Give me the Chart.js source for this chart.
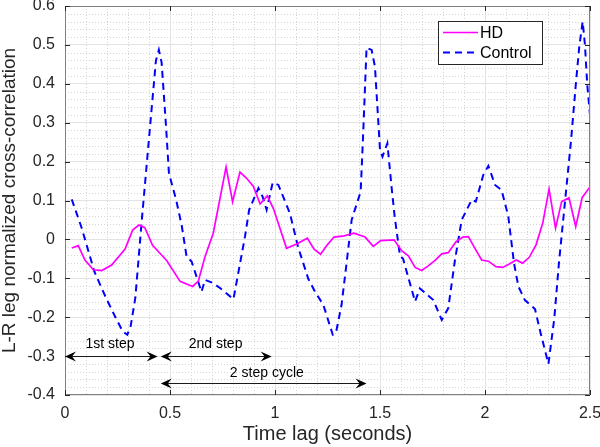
<!DOCTYPE html>
<html>
<head>
<meta charset="utf-8">
<script src="https://cdn.jsdelivr.net/npm/chart.js@4.4.1/dist/chart.umd.min.js"></script>
<style>
  html, body { margin: 0; padding: 0; background: #fff; }
</style>
</head>
<body>
<canvas id="mychart" width="600" height="447"></canvas>
<script>
/* [ Data ] */
const hdTime = [0.033, 0.063, 0.095, 0.135, 0.175, 0.222, 0.286, 0.322, 0.352, 0.38, 0.417, 0.485, 0.548, 0.608, 0.635, 0.667, 0.706, 0.767, 0.798, 0.833, 0.865, 0.897, 0.929, 0.963, 0.992, 1.055, 1.103, 1.154, 1.186, 1.217, 1.249, 1.281, 1.329, 1.376, 1.429, 1.468, 1.503, 1.567, 1.603, 1.635, 1.667, 1.698, 1.73, 1.762, 1.794, 1.825, 1.862, 1.894, 1.921, 1.952, 1.984, 2.016, 2.052, 2.084, 2.116, 2.148, 2.179, 2.211, 2.243, 2.275, 2.305, 2.336, 2.365, 2.4, 2.432, 2.463, 2.5];
const hdVal = [-0.022, -0.016, -0.053, -0.078, -0.08, -0.066, -0.025, 0.024, 0.037, 0.03, -0.015, -0.055, -0.108, -0.121, -0.107, -0.044, 0.016, 0.186, 0.097, 0.173, 0.157, 0.136, 0.091, 0.112, 0.08, -0.023, -0.012, 0.003, -0.025, -0.038, -0.014, 0.006, 0.009, 0.016, 0.006, -0.018, -0.003, -0.001, -0.029, -0.042, -0.072, -0.08, -0.068, -0.054, -0.037, -0.034, -0.006, 0.006, 0.007, -0.023, -0.053, -0.056, -0.07, -0.072, -0.063, -0.053, -0.061, -0.046, -0.014, 0.042, 0.129, 0.029, 0.097, 0.107, 0.033, 0.108, 0.135];

const ctlTime = [0.032, 0.079, 0.14, 0.195, 0.24, 0.275, 0.297, 0.313, 0.335, 0.365, 0.405, 0.433, 0.447, 0.46, 0.48, 0.495, 0.515, 0.53, 0.556, 0.579, 0.603, 0.65, 0.667, 0.705, 0.738, 0.802, 0.857, 0.877, 0.921, 0.941, 0.96, 0.989, 1.016, 1.071, 1.11, 1.159, 1.19, 1.23, 1.275, 1.29, 1.317, 1.338, 1.365, 1.408, 1.42, 1.436, 1.46, 1.476, 1.5, 1.512, 1.535, 1.555, 1.57, 1.595, 1.61, 1.667, 1.69, 1.754, 1.794, 1.825, 1.857, 1.889, 1.937, 1.956, 1.992, 2.016, 2.048, 2.079, 2.111, 2.138, 2.159, 2.19, 2.238, 2.265, 2.302, 2.33, 2.352, 2.381, 2.41, 2.433, 2.449, 2.465, 2.476, 2.487, 2.5];
const ctlVal = [0.103, 0.03, -0.083, -0.15, -0.2, -0.237, -0.245, -0.222, -0.15, 0.045, 0.29, 0.46, 0.487, 0.455, 0.3, 0.17, 0.13, 0.1, 0.035, -0.044, -0.057, -0.135, -0.104, -0.112, -0.125, -0.154, 0.007, 0.076, 0.132, 0.11, 0.076, 0.146, 0.14, 0.067, -0.02, -0.102, -0.134, -0.168, -0.245, -0.241, -0.168, -0.074, 0.05, 0.123, 0.273, 0.493, 0.487, 0.444, 0.23, 0.213, 0.247, 0.135, 0.058, -0.042, -0.05, -0.16, -0.126, -0.156, -0.207, -0.177, -0.053, 0.05, 0.102, 0.097, 0.166, 0.189, 0.14, 0.127, 0.059, -0.061, -0.121, -0.156, -0.179, -0.241, -0.32, -0.203, -0.061, 0.097, 0.256, 0.402, 0.496, 0.56, 0.5, 0.397, 0.32];

const xTicks = [0, 0.5, 1, 1.5, 2, 2.5];
const yTicks = [-0.4, -0.3, -0.2, -0.1, 0, 0.1, 0.2, 0.3, 0.4, 0.5, 0.6];

/* [ Annotations ] */
const arrowFrom = [0, 0.456, 0.456];
const arrowTo = [0.441, 0.984, 1.436];
const arrowLevel = [-0.3, -0.3, -0.37];
const noteText = ['1st step', '2nd step', '2 step cycle'];
const noteTime = [0.214, 0.717, 0.961];
const noteLevel = [-0.27, -0.27, -0.345];

const FONT = "'Liberation Sans', Arial, sans-serif";
const INK = '#262626';

function fmt(v) {
    return String(Math.round(v * 10) / 10);
}

function arrowHead(c, x, y, dir) {
    // dir = 1 points right, -1 points left
    c.beginPath();
    c.moveTo(x, y);
    c.lineTo(x - dir * 11, y - 5);
    c.lineTo(x - dir * 7, y);
    c.lineTo(x - dir * 11, y + 5);
    c.closePath();
    c.fill();
}

const extras = {
    id: 'extras',
    beforeDatasetsDraw(chart) {
        const c = chart.ctx, a = chart.chartArea;
        const xs = chart.scales.x, ys = chart.scales.y;
        c.save();
        c.strokeStyle = '#d6d6d6';
        c.lineWidth = 1;
        c.setLineDash([1, 2]);
        for (let i = 1; i < 25; i++) {
            if (i % 5 === 0) continue;
            const px = Math.round(xs.getPixelForValue(i / 10)) + 0.5;
            c.beginPath(); c.moveTo(px, a.top); c.lineTo(px, a.bottom); c.stroke();
        }
        for (let j = 1; j < 50; j++) {
            if (j % 5 === 0) continue;
            const py = Math.round(ys.getPixelForValue(-0.4 + j * 0.02)) + 0.5;
            c.beginPath(); c.moveTo(a.left, py); c.lineTo(a.right, py); c.stroke();
        }
        c.restore();
    },
    afterDraw(chart) {
        const c = chart.ctx, a = chart.chartArea;
        const xs = chart.scales.x, ys = chart.scales.y;
        c.save();
        // box and inner ticks
        c.strokeStyle = '#808080';
        c.lineWidth = 1;
        c.strokeRect(a.left + 0.5, a.top + 0.5, a.right - a.left - 1, a.bottom - a.top - 1);
        c.strokeStyle = INK;
        xTicks.forEach(v => {
            const px = Math.round(xs.getPixelForValue(v)) + 0.5;
            c.beginPath(); c.moveTo(px, a.bottom); c.lineTo(px, a.bottom - 5); c.stroke();
            c.beginPath(); c.moveTo(px, a.top); c.lineTo(px, a.top + 5); c.stroke();
        });
        yTicks.forEach(v => {
            const py = Math.round(ys.getPixelForValue(v)) + 0.5;
            c.beginPath(); c.moveTo(a.left, py); c.lineTo(a.left + 5, py); c.stroke();
            c.beginPath(); c.moveTo(a.right, py); c.lineTo(a.right - 5, py); c.stroke();
        });

        // arrows
        c.strokeStyle = '#1a1a1a';
        c.fillStyle = '#000';
        for (let i = 0; i < arrowFrom.length; i++) {
            const x1 = xs.getPixelForValue(arrowFrom[i]);
            const x2 = xs.getPixelForValue(arrowTo[i]);
            const py = Math.round(ys.getPixelForValue(arrowLevel[i])) + 0.5;
            c.beginPath(); c.moveTo(x1 + 6, py); c.lineTo(x2 - 6, py); c.stroke();
            arrowHead(c, x1, py, -1);
            arrowHead(c, x2, py, 1);
        }
        c.font = '14px ' + FONT;
        c.fillStyle = '#000';
        c.textAlign = 'center';
        c.textBaseline = 'middle';
        for (let i = 0; i < noteText.length; i++) {
            c.fillText(noteText[i], xs.getPixelForValue(noteTime[i]), ys.getPixelForValue(noteLevel[i]));
        }

        // legend
        const lx = a.right - 152, ly = a.top + 15, lw = 104, lh = 43;
        c.fillStyle = '#fff';
        c.fillRect(lx, ly, lw, lh);
        c.strokeStyle = '#262626';
        c.strokeRect(lx + 0.5, ly + 0.5, lw, lh);
        const sets = chart.data.datasets;
        sets.forEach((ds, k) => {
            const yy = ly + 11.5 + k * 20;
            c.strokeStyle = ds.borderColor;
            c.lineWidth = ds.borderWidth;
            c.setLineDash(ds.borderDash || []);
            c.beginPath(); c.moveTo(lx + 5, yy); c.lineTo(lx + 40, yy); c.stroke();
            c.setLineDash([]);
            c.fillStyle = '#000';
            c.font = '16px ' + FONT;
            c.textAlign = 'left';
            c.fillText(ds.label, lx + 42, yy + 1);
        });
        c.restore();
    }
};

const ctx1 = document.getElementById('mychart').getContext('2d');
let mychart = new Chart(ctx1, {
    type: 'line',
    data: {
        datasets: [
            {
                label: 'HD',
                data: hdTime.map((t, i) => ({ x: t, y: hdVal[i] })),
                borderColor: '#ff00ff',
                borderWidth: 1.7,
                pointRadius: 0,
                tension: 0,
                fill: false
            },
            {
                label: 'Control',
                data: ctlTime.map((t, i) => ({ x: t, y: ctlVal[i] })),
                borderColor: '#0000ff',
                borderWidth: 2,
                borderDash: [7, 5],
                pointRadius: 0,
                tension: 0,
                fill: false
            }
        ]
    },
    options: {
        responsive: false,
        animation: false,
        devicePixelRatio: 1,
        layout: { padding: { top: 6, right: 10, left: 0, bottom: 0 } },
        plugins: { legend: { display: false }, tooltip: { enabled: false } },
        scales: {
            x: {
                type: 'linear',
                min: 0,
                max: 2.5,
                afterBuildTicks: s => { s.ticks = xTicks.map(v => ({ value: v })); },
                afterFit: s => { s.height = 52; s.paddingLeft = 0; s.paddingRight = 0; },
                grid: { color: '#e3e3e3', drawTicks: false },
                border: { display: false },
                ticks: {
                    padding: 9,
                    maxRotation: 0,
                    color: INK,
                    font: { family: FONT, size: 16 },
                    callback: v => fmt(v)
                },
                title: {
                    display: true,
                    text: 'Time lag (seconds)',
                    color: INK,
                    font: { family: FONT, size: 20 },
                    padding: { top: 0, bottom: 1 }
                }
            },
            y: {
                min: -0.4,
                max: 0.6,
                afterBuildTicks: s => { s.ticks = yTicks.map(v => ({ value: v })); },
                afterFit: s => { s.width = 65; s.paddingTop = 0; s.paddingBottom = 0; },
                grid: { color: '#e3e3e3', drawTicks: false },
                border: { display: false },
                ticks: {
                    padding: 10,
                    color: INK,
                    font: { family: FONT, size: 16 },
                    callback: v => fmt(v)
                },
                title: {
                    display: true,
                    text: 'L-R leg normalized cross-correlation',
                    color: INK,
                    font: { family: FONT, size: 19, lineHeight: 1 },
                    padding: { top: 0, bottom: 0 }
                }
            }
        }
    },
    plugins: [extras]
});
</script>
</body>
</html>
